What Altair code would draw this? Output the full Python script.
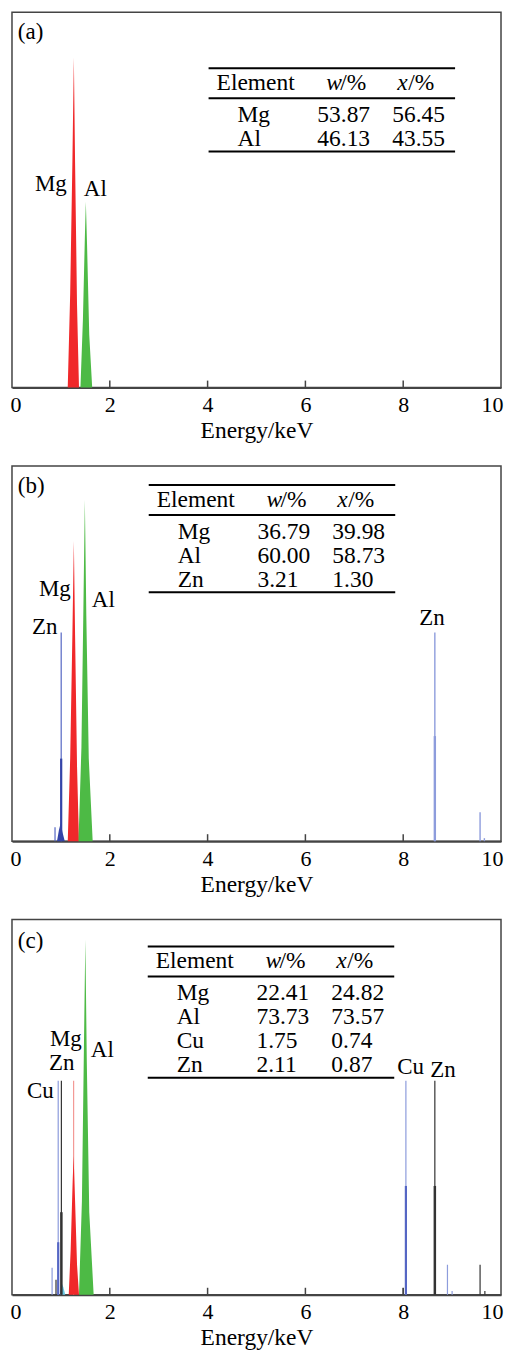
import altair as alt
import pandas as pd

FONT = "Liberation Serif"
W, H = 490, 376
PX_PER_KEV = W / 10.0
PX_PER_V = H / 100.0

# ---------------- data ----------------
TICKS = [0, 2, 4, 6, 8, 10]
INNER_TICKS = [2, 4, 6, 8]

# panel (a)
A_MG_E = [1.14, 1.19, 1.235, 1.265, 1.29, 1.33, 1.37]
A_MG_I = [0, 25, 60, 88, 60, 22, 0]
A_AL_E = [1.40, 1.45, 1.49, 1.51, 1.535, 1.58, 1.64]
A_AL_I = [0, 18, 40, 49.5, 38, 14, 0]
A_ELEM = ["Mg", "Al"]
A_W = ["53.87", "46.13"]
A_X = ["56.45", "43.55"]

# panel (b)
B_MG_E = [1.14, 1.19, 1.235, 1.265, 1.29, 1.33, 1.37]
B_MG_I = [0, 22, 55, 80, 55, 20, 0]
B_AL_E = [1.36, 1.42, 1.46, 1.49, 1.52, 1.57, 1.65]
B_AL_I = [0, 25, 62, 91, 60, 22, 0]
B_ZNB_E = [0.92, 0.96, 0.99, 1.00, 1.03, 1.08]
B_ZNB_I = [0, 3, 4.5, 4.8, 2.5, 0]
B_ZNL_E = [0.88, 1.006]
B_ZNL_I = [3.7, 55.6]
B_ZNL_CORE = [0, 22]
B_ZNK_E = [8.647, 9.572, 9.66]
B_ZNK_I = [55.6, 7.7, 0.8]
B_ZNK_CORE = [28, 0, 0]
B_ELEM = ["Mg", "Al", "Zn"]
B_W = ["36.79", "60.00", "3.21"]
B_X = ["39.98", "58.73", "1.30"]

# panel (c)
C_MG_E = [1.16, 1.20, 1.24, 1.26, 1.29, 1.33, 1.37]
C_MG_I = [0, 12, 30, 37, 25, 8, 0]
C_MG_LINE_E = [1.26]
C_MG_LINE_I = [57]
C_AL_E = [1.37, 1.43, 1.47, 1.50, 1.53, 1.58, 1.67]
C_AL_I = [0, 25, 65, 94.7, 62, 22, 0]
C_CYAN_E = [0.98, 1.02, 1.05, 1.09]
C_CYAN_I = [0, 3, 2, 0]
C_CU_E = [0.82, 0.945, 8.055, 8.905, 9.0]
C_CU_I = [7.2, 57, 57, 8, 1]
C_CU_CORE = [0, 14, 29, 0, 0]
C_ZN_E = [0.90, 1.01, 8.0, 8.647, 9.572, 9.67]
C_ZN_I = [4, 57, 1.8, 57, 8, 1]
C_ZN_CORE = [0, 22, 0, 29, 0, 0]
C_ELEM = ["Mg", "Al", "Cu", "Zn"]
C_W = ["22.41", "73.73", "1.75", "2.11"]
C_X = ["24.82", "73.57", "0.74", "0.87"]

# peak labels: text, energy (keV), intensity
A_LABELS = [("(a)", 0.12, 92.9), ("Mg", 0.469, 52.4), ("Al", 1.469, 51.1)]
B_LABELS = [("(b)", 0.12, 92.9), ("Mg", 0.551, 65.4), ("Al", 1.633, 62.5),
            ("Zn", 0.408, 55.1), ("Zn", 8.327, 57.7)]
C_LABELS = [("(c)", 0.12, 92.5), ("Mg", 0.776, 66.2), ("Zn", 0.755, 59.8),
            ("Cu", 0.306, 52.4), ("Al", 1.612, 63.3), ("Cu", 7.878, 58.8),
            ("Zn", 8.551, 58.0)]

# table anchors (left edge in keV, top rule in intensity units)
A_TABLE = (4.02, 85.1)
B_TABLE = (2.796, 94.9)
C_TABLE = (2.776, 92.8)

# ---------------- styling ----------------
RED = "#f0282a"
LIGHT_RED = "#f39a96"
GREEN = "#4dba45"
BLUE_DARK = "#3444a8"
BLUE_MID = "#5566c4"
BLUE_LIGHT = "#8d9cdc"
GRAY_DARK = "#333333"
CYAN = "#6cc8e4"

XS = alt.Scale(domain=[0, 10], nice=False, zero=False)
YS = alt.Scale(domain=[0, 100], nice=False, zero=False)
XAXIS = alt.Axis(
    values=TICKS, format="d", title="Energy/keV", grid=False, ticks=False,
    tickSize=0, domainColor="#444444", domainWidth=2,
    labelFont=FONT, labelFontSize=22, labelColor="black", labelPadding=7,
    labelFlush=True, labelFlushOffset=2,
    titleFont=FONT, titleFontSize=23.5, titleFontWeight="normal",
    titleColor="black", titlePadding=3,
)


def X(f):
    return alt.X(f, type="quantitative", scale=XS, axis=XAXIS)


def Y(f):
    return alt.Y(f, type="quantitative", scale=YS, axis=None)


def area(E, I, color):
    df = pd.DataFrame({"E": E, "I": I})
    return alt.Chart(df).mark_area(color=color, opacity=1, interpolate="linear").encode(
        x=X("E"), y=Y("I"))


def lines(E, I, CORE, thin_color, core_color, thin_w=1.2, core_w=2.2):
    df = pd.DataFrame({"E": E, "I": I, "C": CORE, "Z": [0.0] * len(E)})
    thin = alt.Chart(df).mark_rule(color=thin_color, strokeWidth=thin_w).encode(
        x=X("E"), y=Y("I"), y2=alt.Y2("Z"))
    layers = [thin]
    dfc = df[df["C"] > 0]
    if len(dfc):
        layers.append(alt.Chart(dfc).mark_rule(color=core_color, strokeWidth=core_w).encode(
            x=X("E"), y=Y("C"), y2=alt.Y2("Z")))
    return layers


def ticks_layer():
    df = pd.DataFrame({"E": INNER_TICKS})
    return alt.Chart(df).mark_rule(color="#444444", strokeWidth=1.5).encode(
        x=X("E"), y=alt.value(H), y2=alt.value(H - 7))


def labels_layer(labels):
    df = pd.DataFrame({"t": [l[0] for l in labels], "tx": [l[1] for l in labels],
                       "ty": [l[2] for l in labels]})
    return alt.Chart(df).mark_text(align="left", baseline="alphabetic", font=FONT,
                                   fontSize=23, color="black").encode(
        x=X("tx"), y=Y("ty"), text="t:N")


def table_layers(anchor, elems, wv, xv):
    left, top = anchor
    kx = lambda px: left + px / PX_PER_KEV
    vy = lambda dy: top - dy / PX_PER_V
    n = len(elems)
    rule_dy = [0, 30, 54 + 24 * (n - 1) + 5.5]
    rdf = pd.DataFrame({"x": [kx(0)] * 3, "x2": [kx(247)] * 3, "y": [vy(d) for d in rule_dy]})
    rules = alt.Chart(rdf).mark_rule(color="black", strokeWidth=2).encode(
        x=X("x"), x2=alt.X2("x2"), y=Y("y"))
    up_t, up_x, up_y = [], [], []
    it_t, it_x, it_y = [], [], []
    up_t += ["Element", "/%", "/%"]
    up_x += [kx(8), kx(132), kx(200)]
    up_y += [vy(22)] * 3
    it_t += ["w", "x"]
    it_x += [kx(118), kx(189)]
    it_y += [vy(22)] * 2
    for i in range(n):
        base = vy(54 + 24 * i)
        up_t += [elems[i], wv[i], xv[i]]
        up_x += [kx(29), kx(109), kx(184)]
        up_y += [base] * 3
    udf = pd.DataFrame({"t": up_t, "tx": up_x, "ty": up_y})
    idf = pd.DataFrame({"t": it_t, "tx": it_x, "ty": it_y})
    tu = alt.Chart(udf).mark_text(align="left", baseline="alphabetic", font=FONT,
                                  fontSize=23.5, color="black").encode(
        x=X("tx"), y=Y("ty"), text="t:N")
    ti = alt.Chart(idf).mark_text(align="left", baseline="alphabetic", font=FONT,
                                  fontSize=23.5, fontStyle="italic", color="black").encode(
        x=X("tx"), y=Y("ty"), text="t:N")
    return [rules, tu, ti]


pa_layers = [area(A_MG_E, A_MG_I, RED), area(A_AL_E, A_AL_I, GREEN), ticks_layer()]
pa_layers += table_layers(A_TABLE, A_ELEM, A_W, A_X)
pa_layers.append(labels_layer(A_LABELS))
pa = alt.layer(*pa_layers).properties(width=W, height=H)

pb_layers = [area(B_ZNB_E, B_ZNB_I, BLUE_DARK)]
pb_layers += lines(B_ZNL_E, B_ZNL_I, B_ZNL_CORE, BLUE_MID, BLUE_DARK)
pb_layers += lines(B_ZNK_E, B_ZNK_I, B_ZNK_CORE, BLUE_LIGHT, BLUE_LIGHT, thin_w=1.4, core_w=2.4)
pb_layers += [area(B_MG_E, B_MG_I, RED), area(B_AL_E, B_AL_I, GREEN), ticks_layer()]
pb_layers += table_layers(B_TABLE, B_ELEM, B_W, B_X)
pb_layers.append(labels_layer(B_LABELS))
pb = alt.layer(*pb_layers).properties(width=W, height=H)

pc_layers = [area(C_CYAN_E, C_CYAN_I, CYAN)]
pc_layers += lines(C_CU_E, C_CU_I, C_CU_CORE, BLUE_LIGHT, BLUE_MID)
pc_layers += lines(C_ZN_E, C_ZN_I, C_ZN_CORE, GRAY_DARK, GRAY_DARK, core_w=2.5)
pc_layers += lines(C_MG_LINE_E, C_MG_LINE_I, [0], LIGHT_RED, RED)
pc_layers += [area(C_MG_E, C_MG_I, RED), area(C_AL_E, C_AL_I, GREEN), ticks_layer()]
pc_layers += table_layers(C_TABLE, C_ELEM, C_W, C_X)
pc_layers.append(labels_layer(C_LABELS))
pc = alt.layer(*pc_layers).properties(width=W, height=H)

chart = (
    alt.vconcat(pa, pb, pc, spacing=21.5)
    .properties(padding={"left": 1, "top": 2, "right": 0, "bottom": 0}, background="white")
    .configure_view(stroke="#444444", strokeWidth=1.5)
)

chart.save("out.html", embed_options={"renderer": "svg", "actions": False})
